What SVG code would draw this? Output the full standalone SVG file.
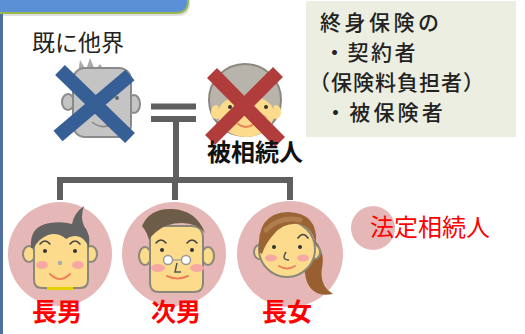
<svg xmlns="http://www.w3.org/2000/svg" width="525" height="334" viewBox="0 0 525 334">
  <defs>
    <style>
      .jp { font-family: "Noto Sans CJK JP", "Noto Sans CJK SC", sans-serif; }
      .dark { fill: #222; }
      .note { font-size: 21px; font-weight: 500; }
      .red { fill: #ff0000; }
      .line { stroke: #5f5f5f; stroke-width: 6; fill: none; }
      .pink { fill: #e5b7b7; }
      .skin { fill: #fcdc8c; stroke: #8a8878; stroke-width: 2; }
      .brow { fill: none; stroke: #444; stroke-width: 1.6; stroke-linecap: round; }
      .eye { fill: #333; }
      .cheek { fill: #f6a9a2; }
      .mouth { fill: none; stroke: #f0805a; stroke-width: 2; stroke-linecap: round; }
    </style>
  </defs>

  <rect width="525" height="334" fill="#ffffff"/>

  <!-- header tab and left rule -->
  <g id="header">
    <path d="M -5 -10 H 190 V 4 Q 190 16 178 16 H -5 Z" fill="#000" opacity="0.12"/>
    <path d="M -5 -10 H 188 V 1 Q 188 13 176 13 H -5 Z" fill="#5b8fd6" stroke="#96b94a" stroke-width="2"/>
    <rect x="0" y="14" width="3" height="320" fill="#4f6fa0"/>
  </g>

  <!-- policy note -->
  <g id="note">
    <rect x="306" y="1" width="210" height="136" fill="#ebeee0"/>
    <text class="jp dark note">
      <tspan x="320" y="30" letter-spacing="3.5">終身保険の</tspan>
      <tspan x="324" y="60" letter-spacing="2.5">・契約者</tspan>
      <tspan x="309" y="90" letter-spacing="1">（保険料負担者）</tspan>
      <tspan x="325" y="120" letter-spacing="3.2">・被保険者</tspan>
    </text>
  </g>

  <!-- connectors -->
  <g id="connectors">
    <line class="line" x1="151" y1="106.5" x2="196" y2="106.5"/>
    <line class="line" x1="151" y1="119" x2="196" y2="119"/>
    <line class="line" x1="176" y1="119" x2="176" y2="180"/>
    <path class="line" d="M 60 200 V 180 H 290 V 200"/>
    <line class="line" x1="175" y1="180" x2="175" y2="200"/>
  </g>

  <!-- grandfather (deceased) -->
  <g id="grandfather">
    <text class="jp dark" font-size="23" x="32" y="51">既に他界</text>
    <polygon points="78,74 80,60 86,70 90,58 95,70 100,64 104,70 128,70 128,80 78,80" fill="#a9a9a9"/>
    <ellipse cx="68" cy="102" rx="6" ry="8" fill="#c4c4c4" stroke="#8a8a8a" stroke-width="2"/>
    <ellipse cx="134" cy="104" rx="6" ry="9" fill="#c4c4c4" stroke="#8a8a8a" stroke-width="2"/>
    <rect x="73" y="68" width="58" height="69" rx="12" fill="#c4c4c4" stroke="#8a8a8a" stroke-width="2"/>
    <circle cx="117" cy="98" r="2" fill="#666"/>
    <path d="M 92 122 Q 102 130 112 124" fill="none" stroke="#888" stroke-width="1.6"/>
    <line x1="60" y1="70" x2="130" y2="138" stroke="#365f96" stroke-width="14"/>
    <line x1="130" y1="75" x2="58" y2="136" stroke="#365f96" stroke-width="14"/>
  </g>

  <!-- grandmother (the deceased insured) -->
  <g id="decedent">
    <circle cx="245" cy="100" r="36" fill="#b9b4ab" stroke="#8c877f" stroke-width="2"/>
    <ellipse cx="216" cy="112" rx="5" ry="7" fill="#fcdc8c"/>
    <ellipse cx="276" cy="112" rx="5" ry="7" fill="#fcdc8c"/>
    <ellipse cx="246" cy="114" rx="28" ry="23" fill="#fcdc8c"/>
    <path d="M 218 110 Q 220 86 246 85 Q 272 86 274 110 Q 268 96 246 95 Q 224 96 218 110 Z" fill="#b9b4ab"/>
    <circle cx="230" cy="107" r="2" class="eye"/>
    <circle cx="266" cy="107" r="2" class="eye"/>
    <ellipse cx="232" cy="118" rx="6" ry="3.5" class="cheek"/>
    <ellipse cx="261" cy="118" rx="6" ry="3.5" class="cheek"/>
    <path class="mouth" d="M 238 124 Q 246 130 254 124"/>
    <line x1="212" y1="73" x2="280" y2="142" stroke="#b03c3c" stroke-width="14"/>
    <line x1="278" y1="72" x2="210" y2="140" stroke="#b03c3c" stroke-width="14"/>
    <text class="jp" font-size="24" font-weight="bold" fill="#111" x="207" y="161">被相続人</text>
  </g>

  <!-- eldest son -->
  <g id="son1">
    <circle class="pink" cx="60" cy="254" r="52"/>
    <ellipse class="skin" cx="29" cy="254" rx="6" ry="8"/>
    <ellipse class="skin" cx="91" cy="254" rx="6" ry="8"/>
    <path class="skin" d="M 34 242 Q 34 230 46 230 H 76 Q 88 230 88 242 V 280 Q 88 288 80 288 H 42 Q 34 288 34 280 Z"/>
    <path d="M 31 248 Q 29 226 50 223 Q 62 221 72 224 Q 74 213 84 206 Q 80 217 84 226 Q 91 234 89 248 Q 86 240 80 237 Q 73 234 66 239 Q 58 232 48 235 Q 38 239 34 248 Z" fill="#636363"/>
    <path class="brow" d="M 40 244 Q 45 238 50 244"/>
    <path class="brow" d="M 70 244 Q 75 238 80 244"/>
    <circle class="eye" cx="45" cy="251" r="2"/>
    <circle class="eye" cx="75" cy="251" r="2"/>
    <ellipse class="cheek" cx="42" cy="265" rx="6" ry="4"/>
    <ellipse class="cheek" cx="78" cy="265" rx="6" ry="4"/>
    <circle cx="60" cy="263" r="2.2" fill="#aaa"/>
    <path class="mouth" d="M 50 274 Q 60 284 70 274"/>
    <rect x="47" y="287" width="26" height="3" fill="#e6d200"/>
    <text class="jp red" font-size="25" font-weight="bold" x="57" y="321" text-anchor="middle">長男</text>
  </g>

  <!-- second son -->
  <g id="son2">
    <circle class="pink" cx="174" cy="254" r="52"/>
    <ellipse class="skin" cx="145" cy="256" rx="6" ry="9"/>
    <ellipse class="skin" cx="208" cy="256" rx="6" ry="9"/>
    <path class="skin" d="M 150 238 Q 150 226 162 226 H 191 Q 203 226 203 238 V 283 Q 203 292 194 292 H 159 Q 150 292 150 283 Z"/>
    <path d="M 142 226 Q 150 208 172 209 Q 196 210 205 233 Q 197 223 182 223 Q 166 223 156 232 Q 151 236 149 240 Q 147 232 142 226 Z" fill="#6d5c48"/>
    <path class="brow" d="M 156 243 Q 161 237 166 243"/>
    <path class="brow" d="M 187 243 Q 192 237 197 243"/>
    <circle class="eye" cx="162" cy="250" r="2"/>
    <circle class="eye" cx="192" cy="250" r="2"/>
    <ellipse class="cheek" cx="158" cy="268" rx="7" ry="4"/>
    <ellipse class="cheek" cx="197" cy="268" rx="7" ry="4"/>
    <line x1="172" y1="260" x2="182" y2="260" stroke="#999" stroke-width="1.2"/>
    <circle cx="168" cy="260" r="4.5" fill="#fff" stroke="#999" stroke-width="1.5"/>
    <circle cx="186" cy="260" r="4.5" fill="#fff" stroke="#999" stroke-width="1.5"/>
    <path d="M 177 263 L 175 272 L 181 272" fill="none" stroke="#555" stroke-width="1.5"/>
    <path class="mouth" d="M 167 276 Q 177 281 188 276"/>
    <text class="jp red" font-size="25" font-weight="bold" x="176" y="321" text-anchor="middle">次男</text>
  </g>

  <!-- eldest daughter -->
  <g id="daughter">
    <circle class="pink" cx="290" cy="254" r="53"/>
    <path d="M 310 236 Q 326 248 322 268 Q 319 286 333 294 Q 314 298 307 282 Q 302 266 305 246 Z" fill="#985f30"/>
    <ellipse class="skin" cx="259" cy="252" rx="5" ry="7"/>
    <ellipse class="skin" cx="315" cy="252" rx="5" ry="7"/>
    <ellipse class="skin" cx="287" cy="249" rx="28" ry="28"/>
    <path d="M 259 252 Q 256 213 288 212 Q 318 213 316 243 Q 312 228 300 224 Q 284 222 274 234 Q 265 244 262 254 Z" fill="#9a6434"/>
    <path d="M 266 230 Q 280 216 300 220" fill="none" stroke="#b07d4d" stroke-width="5" stroke-linecap="round"/>
    <path class="brow" d="M 298 238 Q 303 231 308 238"/>
    <circle class="eye" cx="274" cy="247" r="2"/>
    <circle class="eye" cx="300" cy="247" r="2"/>
    <ellipse class="cheek" cx="271" cy="258" rx="6" ry="3.5"/>
    <ellipse class="cheek" cx="303" cy="258" rx="6" ry="3.5"/>
    <path d="M 286 252 Q 281 260 289 260" fill="none" stroke="#555" stroke-width="1.5"/>
    <path class="mouth" d="M 279 266 Q 287 271 295 266"/>
    <text class="jp red" font-size="25" font-weight="bold" x="287" y="321" text-anchor="middle">長女</text>
  </g>

  <!-- legend -->
  <g id="legend">
    <circle class="pink" cx="373" cy="228" r="22"/>
    <text class="jp red" font-size="24" x="370" y="236">法定相続人</text>
  </g>
</svg>
